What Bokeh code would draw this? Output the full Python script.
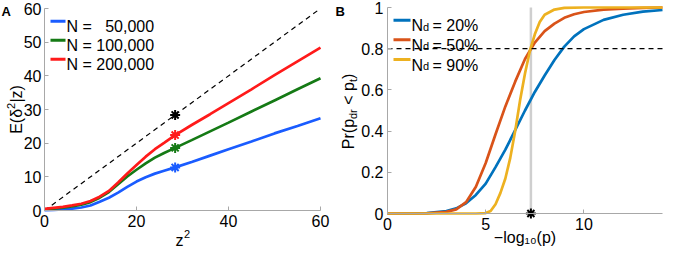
import math
from bokeh.plotting import figure
from bokeh.models import Range1d, FixedTicker, Label, Arrow
from bokeh.layouts import row
from bokeh.embed import file_html
from bokeh.resources import INLINE

# ---------------- Panel A data ----------------
a_z2 = [0, 2, 4, 6, 8, 10, 12, 14, 16, 18, 20, 22, 24, 26, 28.4, 32, 36, 40, 45, 50, 55, 60]
a_n50k = [0.1, 0.2, 0.35, 0.55, 0.9, 1.5, 2.6, 3.8, 5.3, 7.0, 8.6, 9.9, 10.95, 11.8, 12.8,
          14.4, 16.3, 18.2, 20.5, 22.9, 25.1, 27.4]
a_n100k = [0.3, 0.55, 0.85, 1.2, 1.7, 2.5, 3.8, 5.5, 7.8, 10.1, 12.1, 14.0, 15.7, 17.1, 18.6,
           20.9, 23.5, 26.1, 29.4, 32.7, 36.0, 39.3]
a_n200k = [0.5, 0.8, 1.1, 1.5, 2.0, 2.8, 4.1, 5.8, 8.3, 11.0, 13.5, 16.0, 18.2, 20.1, 22.4,
           25.4, 28.6, 31.9, 36.0, 40.2, 44.3, 48.4]
a_labels = ["N = \u200750,000", "N = 100,000", "N = 200,000"]
a_colors = ["#1a5cff", "#157a15", "#ff1a1a"]
a_lim = [0, 60]
a_star_x = 28.4
a_star_y = [12.8, 18.6, 22.4]
a_star_black = 28.4
a_xticks = [0, 20, 40, 60]
a_yticks = [0, 10, 20, 30, 40, 50, 60]

# ---------------- Panel B data ----------------
b_x = [0, 1, 2, 3, 3.5, 4, 4.5, 5, 5.5, 6, 6.5, 7, 7.5, 8, 8.5, 9, 9.5, 10, 11, 12, 13, 14]
b_nd20 = [0, 0, 0.002, 0.012, 0.025, 0.05, 0.09, 0.145, 0.225, 0.31, 0.405, 0.50, 0.59, 0.67,
          0.745, 0.81, 0.86, 0.895, 0.94, 0.965, 0.98, 0.988]
b_nd50 = [0, 0, 0.001, 0.008, 0.02, 0.055, 0.13, 0.245, 0.385, 0.52, 0.64, 0.75, 0.83, 0.885,
          0.922, 0.95, 0.967, 0.978, 0.99, 0.995, 0.998, 1.0]
b_x90 = [0, 2, 4, 4.5, 5, 5.25, 5.5, 5.75, 6, 6.25, 6.5, 6.75, 7, 7.25, 7.5, 7.75, 8, 8.5, 9,
         10, 12, 14]
b_nd90 = [0, 0, 0, 0, 0.002, 0.012, 0.045, 0.10, 0.17, 0.27, 0.40, 0.55, 0.68, 0.79, 0.87,
          0.93, 0.965, 0.99, 0.998, 1.0, 1.0, 1.0]
b_legend_sub = "d"
b_legend_vals = ["= 20%", "= 50%", "= 90%"]
b_colors = ["#0072BD", "#D95319", "#EDB120"]
b_xlim = [0, 14]
b_ylim = [0, 1]
b_threshold = 7.3
b_power = 0.8
b_xticks = [0, 5, 10]
b_yticks = [0, 0.2, 0.4, 0.6, 0.8, 1]
b_ytick_labels = ["0", "0.2", "0.4", "0.6", "0.8", "1"]

FONT = "Liberation Sans"
AXIS_GRAY = "#a8a8a8"
W, H = 332, 248


def make_range(lo, hi, px_lo, px_hi, size):
    """map data lo..hi onto pixels px_lo..px_hi (from the low side) of a frame of `size` px"""
    s = (px_hi - px_lo) / (hi - lo)
    return Range1d(lo - px_lo / s, hi + (size - px_hi) / s)


def style(p, xticks, yticks, xb, yb, ystand):
    p.outline_line_color = None
    p.grid.visible = False
    p.background_fill_color = "white"
    p.border_fill_color = "white"
    for ax in (p.xaxis[0], p.yaxis[0]):
        ax.fixed_location = 0
        ax.axis_line_color = AXIS_GRAY
        ax.major_tick_line_color = AXIS_GRAY
        ax.major_tick_in = 4
        ax.major_tick_out = 0
        ax.minor_tick_line_color = None
        ax.major_label_text_font = FONT
        ax.major_label_text_font_size = "16px"
        ax.major_label_text_color = "black"
    p.xaxis[0].bounds = tuple(xb)
    p.yaxis[0].bounds = tuple(yb)
    p.xaxis[0].ticker = FixedTicker(ticks=xticks)
    p.yaxis[0].ticker = FixedTicker(ticks=yticks)
    p.xaxis[0].major_label_standoff = 4
    p.yaxis[0].major_label_standoff = ystand


def txt(p, text, x, top_y, size="16px", angle=0, align="left", baseline="alphabetic", bold=False):
    """x from figure left, top_y from figure top (pixels)"""
    p.add_layout(Label(x=x, y=H - top_y, x_units="screen", y_units="screen", text=text,
                       text_font=FONT, text_font_size=size, angle=angle,
                       text_align=align, text_baseline=baseline,
                       text_font_style="bold" if bold else "normal", text_color="black"))


def sample(p, x0, x1, top_y, color):
    p.add_layout(Arrow(end=None, x_start=x0, x_end=x1, y_start=H - top_y, y_end=H - top_y,
                       start_units="screen", end_units="screen",
                       line_color=color, line_width=3))


def fig(xr, yr):
    return figure(width=W, height=H, output_backend="svg", toolbar_location=None,
                  x_range=xr, y_range=yr, min_border_left=0, min_border_right=0,
                  min_border_top=0, min_border_bottom=0)


ROT = math.pi / 2

# ---------------- Panel A ----------------
pA = fig(make_range(a_lim[0], a_lim[1], 44, 320, W),
         make_range(a_lim[0], a_lim[1], H - 210, H - 8, H))
style(pA, a_xticks, a_yticks, a_lim, a_lim, 3)
pA.line(a_lim, a_lim, line_color="black", line_dash="5 4", line_width=1.2)
for ys, c in zip([a_n50k, a_n100k, a_n200k], a_colors):
    pA.line(a_z2, ys, line_color=c, line_width=2.7)
for ys, c in zip(a_star_y, a_colors):
    pA.scatter([a_star_x], [ys], marker="asterisk", size=10, line_color=c, line_width=2)
pA.scatter([a_star_black], [a_star_black], marker="asterisk", size=10, line_color="black",
           line_width=2)
for i, (lab, c) in enumerate(zip(a_labels, a_colors)):
    yc = 20.7 + 19 * i
    sample(pA, 50, 65, yc, c)
    txt(pA, lab, 66, yc + 5.7)
txt(pA, "A", 1, 3, size="13px", baseline="top", bold=True)
# y label E(delta^2|z), read upwards, with a raised "2"
ay0 = 109 + 24.3
txt(pA, "E(\u03b4", 16, ay0, angle=ROT)
txt(pA, "2", 10, ay0 - 24.9, size="11px", angle=ROT)
txt(pA, "|z)", 16, ay0 - 24.9 - 6.3, angle=ROT)
# x label z^2
txt(pA, "z", 44 + 276 / 2 - 7, 240)
txt(pA, "2", 44 + 276 / 2 + 1.5, 233, size="11px")

# ---------------- Panel B ----------------
pB = fig(make_range(b_xlim[0], b_xlim[1], 55, 330, W),
         make_range(b_ylim[0], b_ylim[1], H - 213, H - 7, H))
style(pB, b_xticks, b_yticks, b_xlim, b_ylim, 4)
pB.yaxis[0].major_label_overrides = {t: s for t, s in zip(b_yticks, b_ytick_labels)}
pB.segment(x0=[b_threshold], y0=[b_ylim[0]], x1=[b_threshold], y1=[b_ylim[1]],
           line_color="#cfcfcf", line_width=2.5)
for xs, ys, c in zip([b_x, b_x, b_x90], [b_nd20, b_nd50, b_nd90], b_colors):
    pB.line(xs, ys, line_color=c, line_width=2.7)
pB.line(b_xlim, [b_power, b_power], line_color="black", line_dash="5 4", line_width=1.2)
pB.scatter([b_threshold], [0], marker="asterisk", size=10, line_color="black", line_width=2)
for i, (val, c) in enumerate(zip(b_legend_vals, b_colors)):
    yc = 19.7 + 19.6 * i
    sample(pB, 61, 78, yc, c)
    txt(pB, "N", 79, yc + 5.7)
    txt(pB, b_legend_sub, 79 + 11.6, yc + 6.5, size="11px")
    txt(pB, val, 79 + 21, yc + 5.7)
txt(pB, "B", 3, 3, size="13px", baseline="top", bold=True)
# y label  Pr(p_dr < p_t), assembled from pieces so the subscripts sit low
bx = 16
y0 = 111 + 37.7  # label starts at the bottom (text reads upwards)
txt(pB, "Pr(p", bx, y0, angle=ROT)
y1 = y0 - 30.2
txt(pB, "dr", bx + 4, y1, size="11px", angle=ROT)
y2 = y1 - 9.8 - 4.45
txt(pB, "< p", bx, y2, angle=ROT)
y3 = y2 - 22.7
txt(pB, "t", bx + 4, y3, size="11px", angle=ROT)
y4 = y3 - 3.1
txt(pB, ")", bx, y4, angle=ROT)
txt(pB, "\u2212log\u2081\u2080(p)", 55 + 275 / 2, 237, align="center")

layout = row(pA, pB)
open("out.html", "w").write(file_html(layout, INLINE))
